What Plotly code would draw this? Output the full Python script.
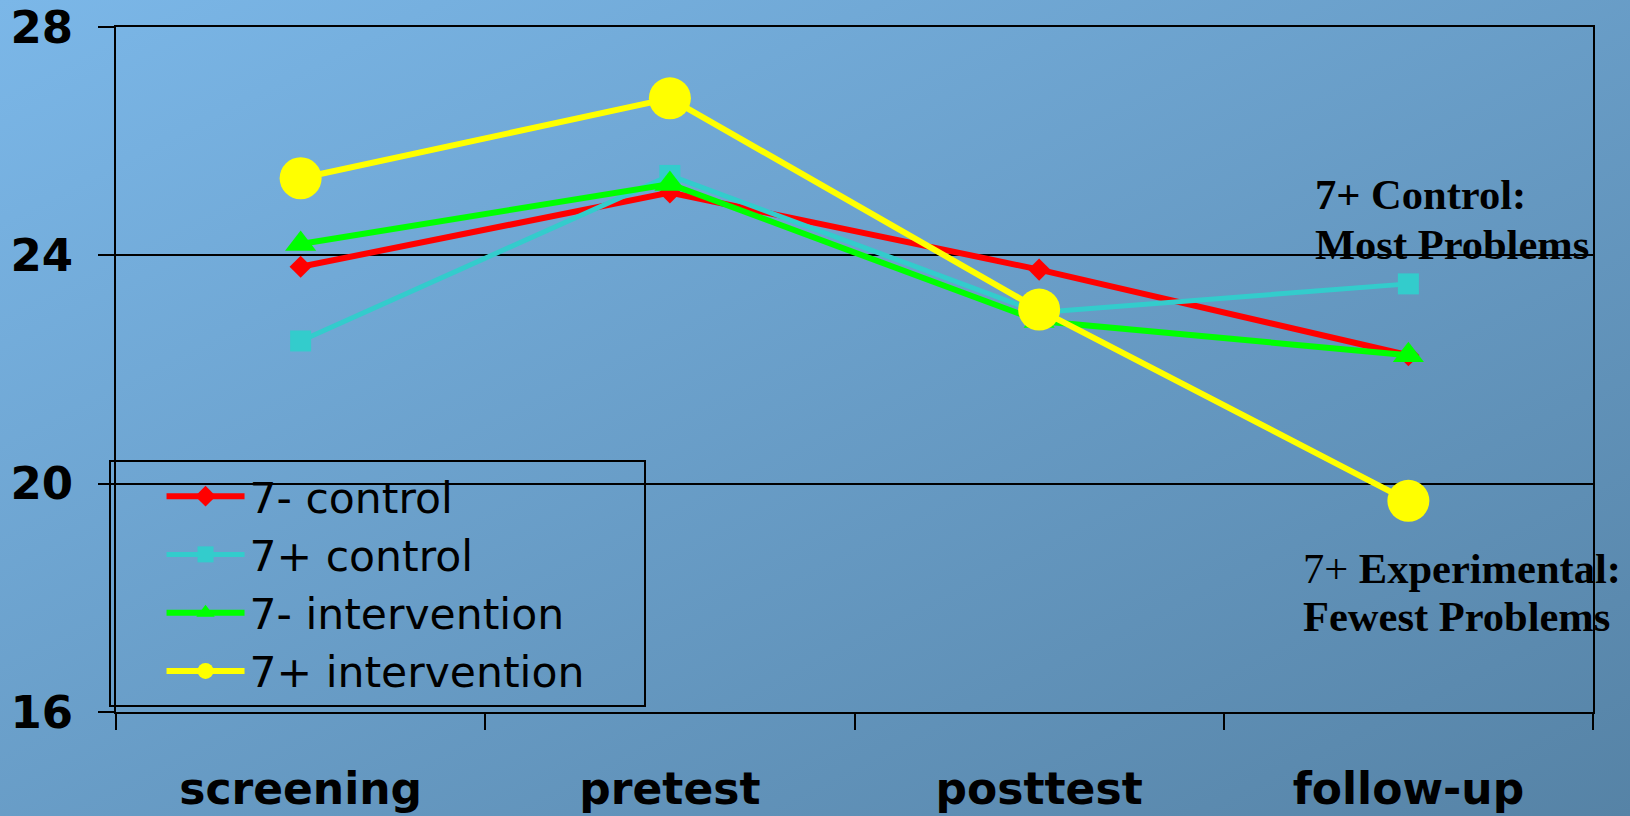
import base64
import plotly.graph_objects as go

categories = ["screening", "pretest", "posttest", "follow-up"]
control_minus = [23.8, 25.1, 23.75, 22.25]
control_plus = [22.5, 25.4, 23.0, 23.5]
interv_minus = [24.2, 25.25, 22.85, 22.25]
interv_plus = [25.35, 26.75, 23.05, 19.7]
y_ticks = [16, 20, 24, 28]

W, H = 1630, 816
ml, mr, mt, mb = 116, 37, 27, 104
pw, ph = W - ml - mr, H - mt - mb
nbsp = "\u00a0"


def px_x(x):
    return (x - ml) / pw


def px_y(y):
    return (H - mb - y) / ph


# diagonal blue gradient background as an inline svg
svg = (
    '<svg xmlns="http://www.w3.org/2000/svg" width="1630" height="816">'
    '<defs><linearGradient id="g" x1="0" y1="0" x2="1" y2="1">'
    '<stop offset="0" stop-color="#7BB7E8"/>'
    '<stop offset="1" stop-color="#5683A6"/>'
    '</linearGradient></defs>'
    '<rect width="1630" height="816" fill="url(#g)"/></svg>'
)
bg = "data:image/svg+xml;base64," + base64.b64encode(svg.encode()).decode()

fig = go.Figure()

series = [
    ("7- control", control_minus, "#FF0000", "diamond", 17, 6),
    ("7+ control", control_plus, "#33CCCC", "square", 21, 5),
    ("7- intervention", interv_minus, "#00FF00", "triangle-up", 27, 6),
    ("7+ intervention", interv_plus, "#FFFF00", "circle", 42, 6),
]
for name, vals, col, sym, size, lw in series:
    fig.add_trace(go.Scatter(
        x=categories, y=vals, name=name + nbsp * 4, mode="lines+markers",
        line=dict(color=col, width=lw),
        marker=dict(color=col, symbol=sym, size=size),
    ))

notes = [
    ("<b>7+ Control:</b>", 1313, 194),
    ("<b>Most Problems</b>", 1313, 244),
    ("7+ <b>Experimental:</b>", 1301, 568),
    ("<b>Fewest Problems</b>", 1301, 616),
]
for txt, x, y in notes:
    fig.add_annotation(
        xref="paper", yref="paper", x=px_x(x), y=px_y(y),
        xanchor="left", yanchor="middle", align="left", showarrow=False,
        text=txt, font=dict(family="Liberation Serif", size=42.5, color="black"),
    )

fig.add_layout_image(
    source=bg, xref="paper", yref="paper",
    x=-ml / pw, y=1 + mt / ph, sizex=W / pw, sizey=H / ph,
    xanchor="left", yanchor="top", sizing="stretch", layer="below",
)

fig.update_layout(
    width=W, height=H,
    margin=dict(l=ml, r=mr, t=mt, b=mb, autoexpand=False),
    paper_bgcolor="#6A9CC8", plot_bgcolor="rgba(0,0,0,0)",
    showlegend=True,
    legend=dict(
        x=px_x(109), y=px_y(707), xanchor="left", yanchor="bottom",
        bgcolor="rgba(0,0,0,0)", bordercolor="black", borderwidth=2,
        font=dict(family="DejaVu Sans", size=42.5, color="black"),
        title=dict(text=nbsp * 3, side="left", font=dict(size=42.5)),
        itemwidth=78, tracegroupgap=0,
    ),
)
fig.update_xaxes(
    range=[-0.5, 3.5], automargin=False, showline=True, linecolor="black",
    linewidth=2, mirror=True,
    ticks="outside", tickson="boundaries", ticklen=16, tickcolor="black", tickwidth=2,
    showgrid=False, ticklabelstandoff=37,
    tickfont=dict(family="DejaVu Sans", size=44, color="black", weight="bold"),
)
fig.update_yaxes(
    range=[16, 28], tickvals=y_ticks, automargin=False, showline=True,
    linecolor="black", linewidth=2,
    mirror=True, ticks="outside", ticklen=16, tickcolor="black", tickwidth=2,
    showgrid=True, gridcolor="black", gridwidth=2, zeroline=False,
    ticklabelstandoff=16,
    tickfont=dict(family="DejaVu Sans", size=45, color="black", weight="bold"),
)

fig.write_html(
    "out.html",
    config={"displayModeBar": False},
    post_script="document.body.style.margin='0';document.body.style.overflow='hidden';",
)
